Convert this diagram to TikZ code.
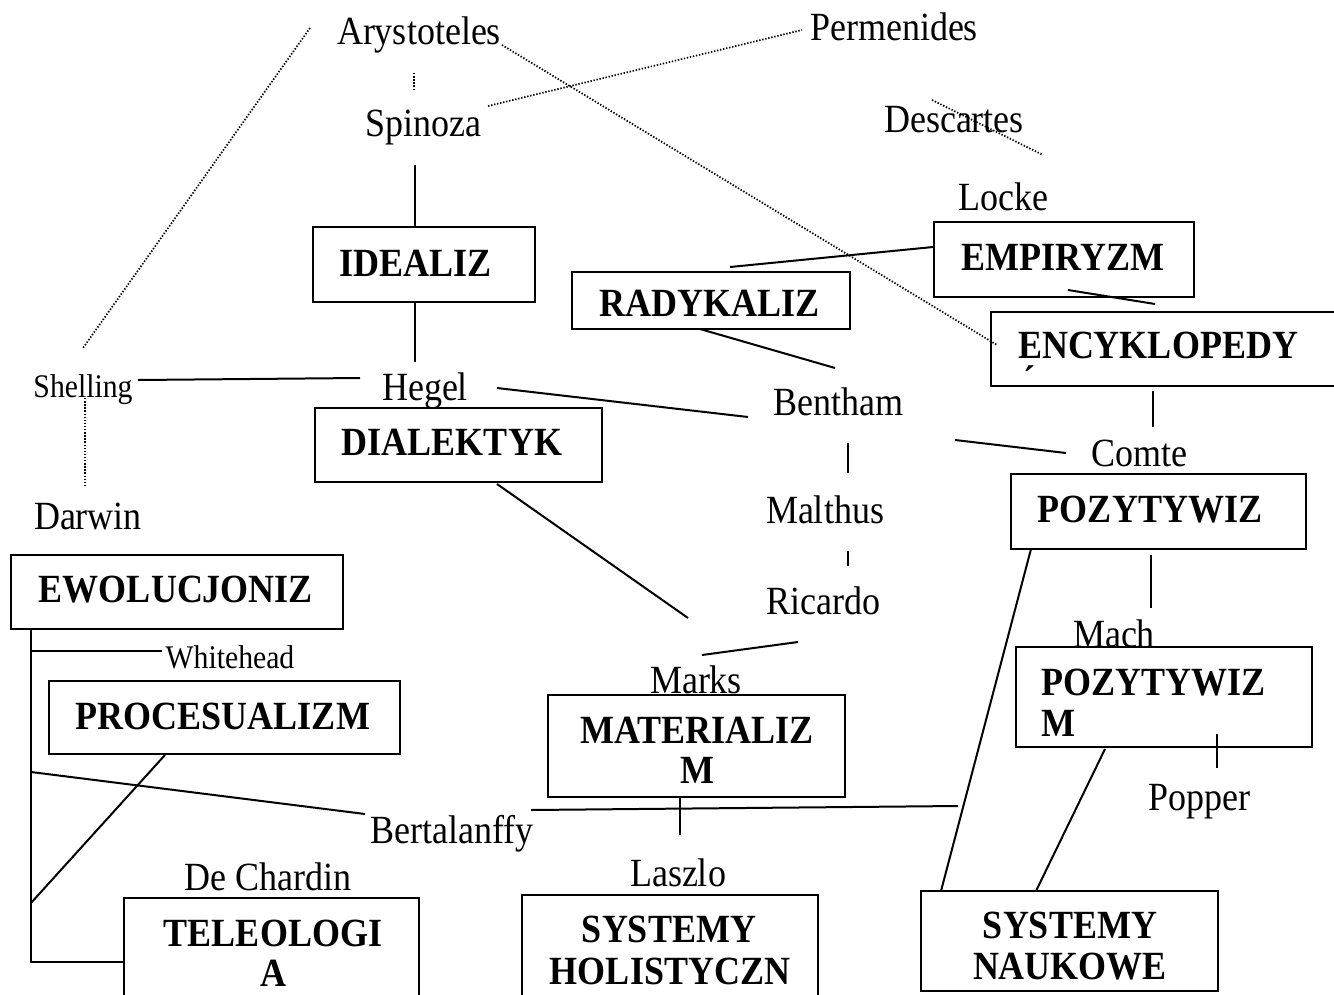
\documentclass[tikz,border=0pt]{standalone}
\usepackage{fontspec}
\setmainfont[FakeStretch=0.9]{Liberation Serif}
\begin{document}
\begin{tikzpicture}[x=1pt,y=-1pt,
  nm/.style={font=\fontsize{40}{44}\selectfont, inner sep=0pt, anchor=base},
  sm/.style={font=\fontsize{33}{36}\selectfont, inner sep=0pt, anchor=base},
  box/.style={draw, line width=2pt, inner sep=0pt, rectangle},
  bt/.style={font=\fontsize{40}{44}\selectfont\bfseries, inner sep=0pt, anchor=base},
  conn/.style={line width=2pt},
  thin/.style={line width=1.5pt},
  dotl/.style={line width=1.7pt, dash pattern=on 1.4pt off 1.7pt}]
\useasboundingbox (0,0) rectangle (1334,994);
\clip (0,0) rectangle (1334,994);
\fill[white] (0,0) rectangle (1334,994);

% name labels
\node[nm] (arys) at (419,44) {Arystoteles};
\node[nm] (perm) at (894,40) {Permenides};
\node[nm] (spin) at (423,136) {Spinoza};
\node[nm] (desc) at (954,132) {Descartes};
\node[nm] (locke) at (1003,210) {Locke};
\node[sm] (shel) at (83,397) {Shelling};
\node[nm] (hegel) at (425,400) {Hegel};
\node[nm] (bent) at (838,415) {Bentham};
\node[nm] (comte) at (1139,466) {Comte};
\node[nm] (darw) at (88,529) {Darwin};
\node[nm] (malt) at (825,523) {Malthus};
\node[nm] (ric) at (823,614) {Ricardo};
\node[nm] (mach) at (1114,647) {Mach};
\node[sm] (white) at (230,668) {Whitehead};
\node[nm] (marks) at (696,693) {Marks};
\node[nm] (popp) at (1199,810) {Popper};
\node[nm] (bert) at (452,843) {Bertalanffy};
\node[nm] (dech) at (268,890) {De Chardin};
\node[nm] (lasz) at (678,886) {Laszlo};

% boxes
\node[box, minimum width=222pt, minimum height=75pt] (idealiz) at (424,264.5) {};
\node[box, minimum width=260pt, minimum height=75pt] (empir) at (1064,259.5) {};
\node[box, minimum width=278pt, minimum height=57pt] (radyk) at (711,300.5) {};
\node[box, minimum width=354pt, minimum height=74pt] (encyk) at (1168,349) {};
\node[box, minimum width=287pt, minimum height=74pt] (dial) at (458.5,445) {};
\node[box, minimum width=295pt, minimum height=75pt] (pozyt) at (1158.5,511.5) {};
\node[box, minimum width=332pt, minimum height=74pt] (ewol) at (177,592) {};
\node[box, minimum width=351pt, minimum height=73pt] (proc) at (224.5,717.5) {};
\node[box, minimum width=297pt, minimum height=102pt] (mater) at (696.5,746) {};
\node[box, minimum width=296pt, minimum height=100pt] (pozm) at (1164,697) {};
\node[box, minimum width=295pt, minimum height=112pt] (teleo) at (271.5,954) {};
\node[box, minimum width=296pt, minimum height=115pt] (holist) at (670,952.5) {};
\node[box, minimum width=297pt, minimum height=100pt] (nauk) at (1069.5,941) {};

% box texts
\node[bt] (tidealiz) at (416,276) {IDEALIZ};
\node[bt] (tempir) at (1063,270) {EMPIRYZM};
\node[bt] (tradyk) at (710,316) {RADYKALIZ};
\node[bt] (tencyk) at (1158,358) {ENCYKLOPEDY};
\node[bt] (tacc) at (1029,393) {´};
\node[bt] (tdial) at (452,455) {DIALEKTYK};
\node[bt] (tpozyt) at (1150,522) {POZYTYWIZ};
\node[bt] (tewol) at (176,602) {EWOLUCJONIZ};
\node[bt] (tproc) at (223,729) {PROCESUALIZM};
\node[bt] (tmater) at (697,743) {MATERIALIZ};
\node[bt] (tmater2) at (697,783) {M};
\node[bt, anchor=base west] (tpozm) at (1041,695) {POZYTYWIZ};
\node[bt, anchor=base west] (tpozm2) at (1041,736) {M};
\node[bt] (tteleo) at (273,946) {TELEOLOGI};
\node[bt] (tteleo2) at (273,986) {A};
\node[bt] (tholist) at (669,942) {SYSTEMY};
\node[bt] (tholist2) at (670,984) {HOLISTYCZN};
\node[bt] (tnauk) at (1070,938) {SYSTEMY};
\node[bt] (tnauk2) at (1070,979) {NAUKOWE};

% solid connectors
\draw[conn] (415,165) -- (idealiz.north -| 415,0);
\draw[conn] (idealiz.south -| 415,0) -- (415,362);
\draw[conn] (138,380) -- (360,378);
\draw[conn] (497,388) -- (748,417);
\draw[conn] (730,267) -- (empir.west |- 0,247);
\draw[conn] (1068,290) -- (1155,304);
\draw[conn] (700,329) -- (835,368);
\draw[thin] (1153,391) -- (1153,427);
\draw[thin] (848,443) -- (848,473);
\draw[thin] (848,551) -- (848,566);
\draw[conn] (955,440) -- (1066,453);
\draw[thin] (1151,555) -- (1151,608);
\draw[conn] (497,484) -- (688,618);
\draw[conn] (702,655) -- (798,642);
\draw[thin] (680,797) -- (680,835);
\draw[conn] (531,810) -- (958,806);
\draw[conn] (teleo.west |- 0,962) -- (31,962) -- (31,629);
\draw[conn] (31,651) -- (162,651);
\draw[conn] (31,772) -- (365,814);
\draw[conn] (165,755) -- (31,903);
\draw[conn] (1031,549) -- (941,891);
\draw[conn] (1105,749) -- (1036,891);
\draw[thin] (1217,734) -- (1217,768);

% dotted connectors
\draw[dotl] (414,73) -- (414,90);
\draw[dotl] (310,28) -- (83,348);
\draw[dotl] (85,398) -- (85,487);
\draw[dotl] (502,45) -- (997,345);
\draw[dotl] (488,106) -- (802,30);
\draw[dotl] (932,100) -- (1043,155);
\end{tikzpicture}
\end{document}
